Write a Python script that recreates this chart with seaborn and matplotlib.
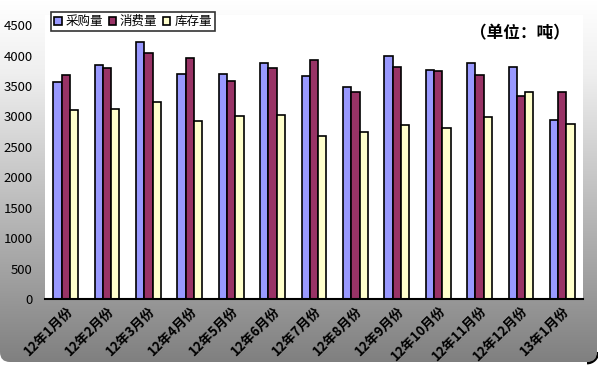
import numpy as np
import pandas as pd
import matplotlib
matplotlib.use("Agg")
import matplotlib.pyplot as plt
from matplotlib.patches import FancyBboxPatch, Arc
from matplotlib.colors import LinearSegmentedColormap
import seaborn as sns

months = ["12年1月份", "12年2月份", "12年3月份", "12年4月份", "12年5月份", "12年6月份",
          "12年7月份", "12年8月份", "12年9月份", "12年10月份", "12年11月份", "12年12月份",
          "13年1月份"]
series = ["采购量", "消费量", "库存量"]
purchase = [3560, 3840, 4215, 3690, 3690, 3875, 3660, 3480, 3990, 3760, 3875, 3810, 2940]
consumption = [3675, 3790, 4040, 3955, 3580, 3790, 3920, 3400, 3810, 3740, 3675, 3330, 3400]
stock = [3100, 3120, 3235, 2920, 3005, 3020, 2675, 2740, 2855, 2805, 2990, 3400, 2870]
colors = ["#9999FF", "#993366", "#FFFFCC"]

df = pd.DataFrame({
    "月份": months * 3,
    "类别": [s for s in series for _ in months],
    "数量": purchase + consumption + stock,
})

sns.set_style("white")
plt.rcParams["font.family"] = ["Noto Sans CJK SC", "DejaVu Sans"]
plt.rcParams["text.color"] = "black"
plt.rcParams["xtick.color"] = "black"
plt.rcParams["ytick.color"] = "black"

W, H = 598, 367
fig = plt.figure(figsize=(W / 100, H / 100), dpi=100)

# gradient background with rounded frame, shadow only shows at the corner
bg = fig.add_axes([0, 0, 1, 1], zorder=-10)
bg.set_axis_off()
cmap = LinearSegmentedColormap.from_list(
    "g", [(0, "#7e7e7e"), (0.45, "#bdbdbd"), (0.8, "#efefef"), (1, "#ffffff")])
grad = np.linspace(0, 1, 256).reshape(-1, 1)
im = bg.imshow(grad, cmap=cmap, aspect="auto", extent=(0, W, 0, H), origin="lower", zorder=2)
bg.set_xlim(0, W)
bg.set_ylim(0, H)
frame = FancyBboxPatch((0, 5), 597, 370, boxstyle="round,pad=0,rounding_size=10",
                       fc="none", ec="none", zorder=0)
bg.add_patch(frame)
im.set_clip_path(frame)
bg.add_patch(Arc((587, 15), 22, 22, theta1=-90, theta2=0, color="black", lw=2, zorder=1))

ax = fig.add_axes([45 / W, 1 - 299.3 / H, 538 / W, 284.3 / H])
ax.set_facecolor("white")
sns.barplot(data=df, x="月份", y="数量", hue="类别", palette=colors, saturation=1,
            width=0.6, edgecolor="black", linewidth=1.2, ax=ax)

ax.set_ylim(0, 4665)
ax.set_yticks(range(0, 5000, 500))
ax.set_xlim(-0.5, len(months) - 0.5)
ax.set_xlabel("")
ax.set_ylabel("")
for s in ["top", "right", "left"]:
    ax.spines[s].set_visible(False)
ax.spines["bottom"].set_color("black")
ax.spines["bottom"].set_linewidth(1.5)

ax.tick_params(axis="y", length=0, pad=9, labelsize=9.5)
ax.tick_params(axis="x", which="major", length=0, pad=3, labelsize=9.5)
ax.set_xticks(np.arange(-0.5, len(months), 1), minor=True)
ax.tick_params(axis="x", which="minor", direction="in", length=4, width=1, color="black")
for lab in ax.get_xticklabels():
    lab.set_rotation(45)
    lab.set_ha("right")
    lab.set_va("top")
    lab.set_rotation_mode("anchor")
    lab.set_fontweight("bold")

leg = ax.legend(loc="upper left", bbox_to_anchor=(51 / W, 1 - 12 / H),
                bbox_transform=fig.transFigure, ncol=3, frameon=True, fancybox=False,
                edgecolor="black", borderpad=0.25, columnspacing=0.45,
                handletextpad=0.3, handlelength=0.6, handleheight=0.6,
                borderaxespad=0, fontsize=9, title=None)
leg.get_frame().set_linewidth(1.2)

fig.text(570 / W, 1 - 33 / H, "（单位：吨）", ha="right", va="center",
         fontsize=12, fontweight="bold")

fig.savefig("out.png", dpi=100)
